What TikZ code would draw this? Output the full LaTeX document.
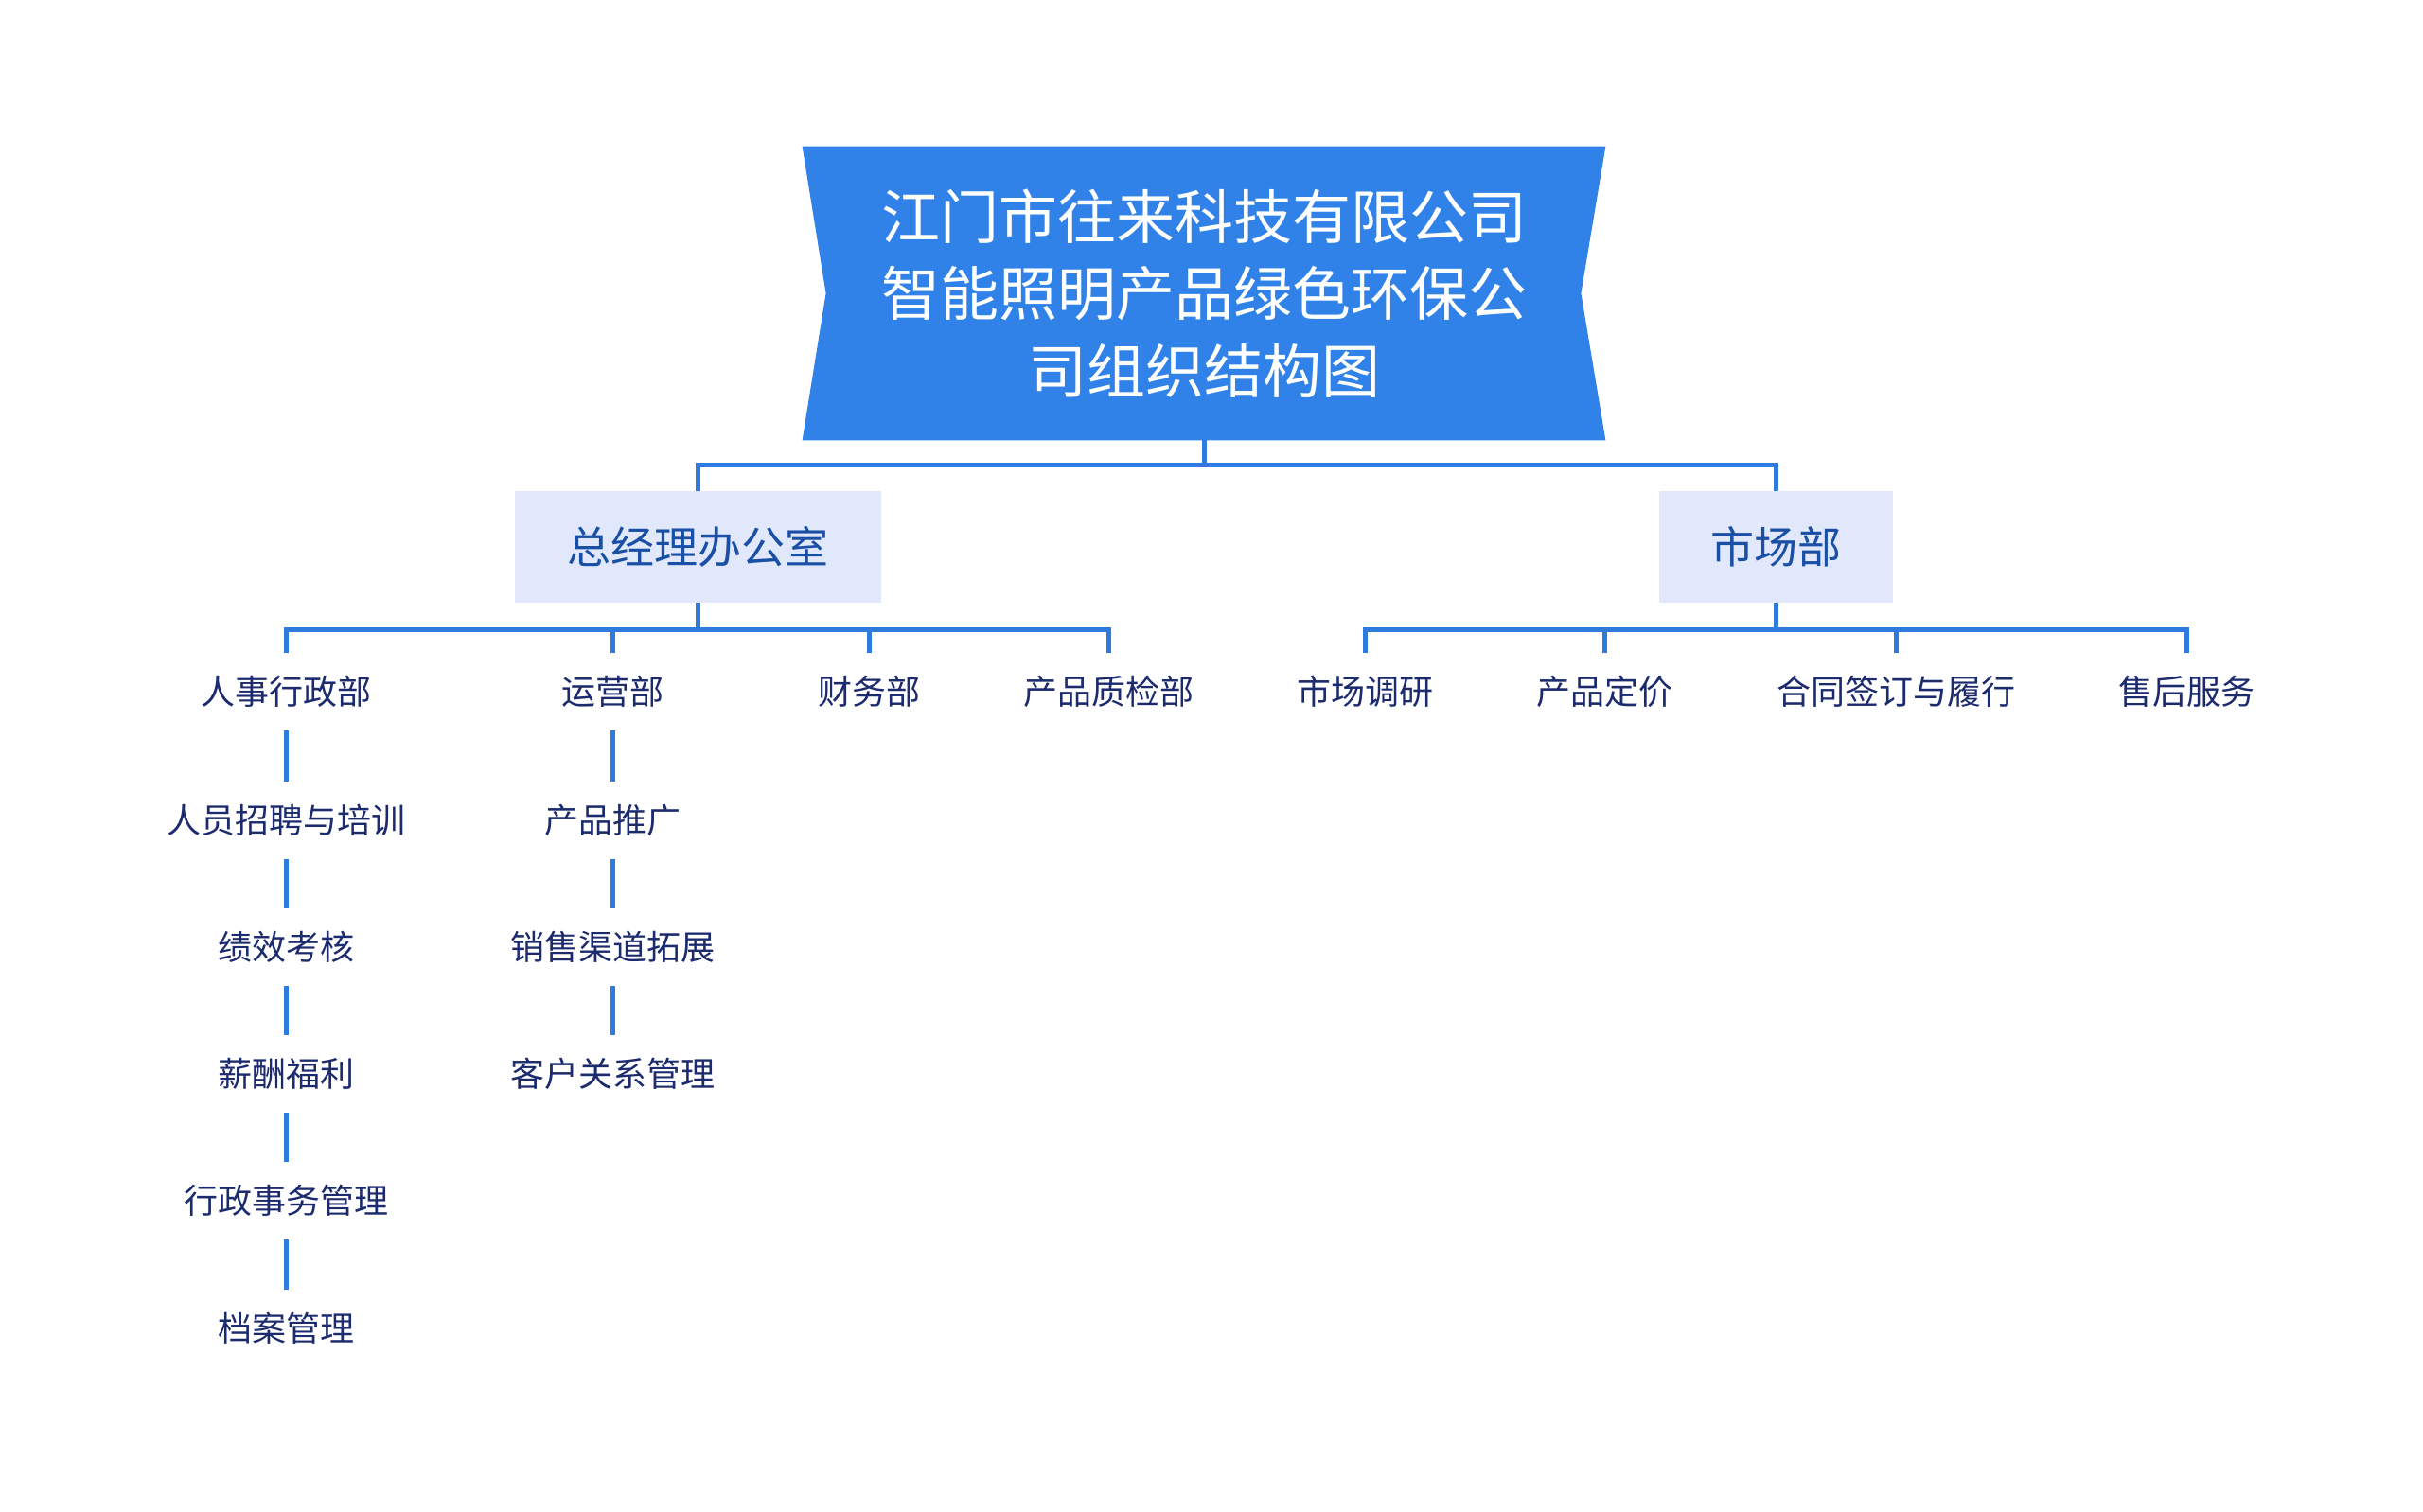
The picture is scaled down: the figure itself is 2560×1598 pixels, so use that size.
\documentclass[tikz,border=0pt]{standalone}
\usepackage{fontspec}
\setmainfont{Noto Sans CJK SC}
\usetikzlibrary{backgrounds,calc}
\definecolor{titlefill}{HTML}{3082E8}
\definecolor{boxfill}{HTML}{E1E8FB}
\definecolor{boxtext}{HTML}{1A4FA6}
\definecolor{leaftext}{HTML}{1C2B6E}
\definecolor{linec}{HTML}{2F7BDD}
\tikzset{
  conn/.style={draw=linec, line width=2.5pt},
  deptbox/.style={fill=boxfill, text=boxtext, inner sep=0pt, font=\fontsize{23}{26}\selectfont},
  leaf/.style={text=leaftext, inner sep=0pt, minimum height=41pt, font=\fontsize{18}{20}\selectfont},
}
\begin{document}
\begin{tikzpicture}[x=0.5pt,y=-0.5pt]
\useasboundingbox (0,0) rectangle (2560,1598);
% title
\node[minimum width=424pt, minimum height=155pt, inner sep=0pt, text=white, align=center,
      font=\fontsize{31}{40.75}\selectfont] (t) at (1272,310)
  {江门市往来科技有限公司\\智能照明产品绿色环保公\\司组织结构图};
\begin{scope}[on background layer]
\fill[titlefill] (t.north west) -- (t.north east) -- ($(t.east)+(-26,0)$) -- (t.south east)
  -- (t.south west) -- ($(t.west)+(25,0)$) -- cycle;
\end{scope}
% level 1
\node[deptbox, minimum width=193.5pt, minimum height=59pt] (b1) at (737.5,578) {总经理办公室};
\node[deptbox, minimum width=123.5pt, minimum height=59pt] (b2) at (1876.5,578) {市场部};
\draw[conn] (t.south) -- ++(0,26) -| (b1.north);
\draw[conn] (t.south) -- ++(0,26) -| (b2.north);
% level 2 left
\node[leaf] (c1) at (302,731) {人事行政部};
\node[leaf] (c2) at (647,731) {运营部};
\node[leaf] (c3) at (918,731) {财务部};
\node[leaf] (c4) at (1171,731) {产品质检部};
\foreach \c in {c1,c2,c3,c4} \draw[conn] (b1.south) -- ++(0,28) -| (\c.north);
% level 2 right
\node[leaf] (d1) at (1442,731) {市场调研};
\node[leaf] (d2) at (1695,731) {产品定价};
\node[leaf] (d3) at (2003,731) {合同签订与履行};
\node[leaf] (d4) at (2310,731) {售后服务};
\foreach \c in {d1,d2,d3,d4} \draw[conn] (b2.south) -- ++(0,28) -| (\c.north);
% chain under c1
\node[leaf] (e1) at (302,867) {人员招聘与培训};
\node[leaf] (e2) at (302,1001) {绩效考核};
\node[leaf] (e3) at (302,1135) {薪酬福利};
\node[leaf] (e4) at (302,1269) {行政事务管理};
\node[leaf] (e5) at (302,1404) {档案管理};
\draw[conn] (c1.south) -- (e1.north);
\draw[conn] (e1.south) -- (e2.north);
\draw[conn] (e2.south) -- (e3.north);
\draw[conn] (e3.south) -- (e4.north);
\draw[conn] (e4.south) -- (e5.north);
% chain under c2
\node[leaf] (f1) at (647,867) {产品推广};
\node[leaf] (f2) at (647,1001) {销售渠道拓展};
\node[leaf] (f3) at (647,1135) {客户关系管理};
\draw[conn] (c2.south) -- (f1.north);
\draw[conn] (f1.south) -- (f2.north);
\draw[conn] (f2.south) -- (f3.north);
\end{tikzpicture}
\end{document}
